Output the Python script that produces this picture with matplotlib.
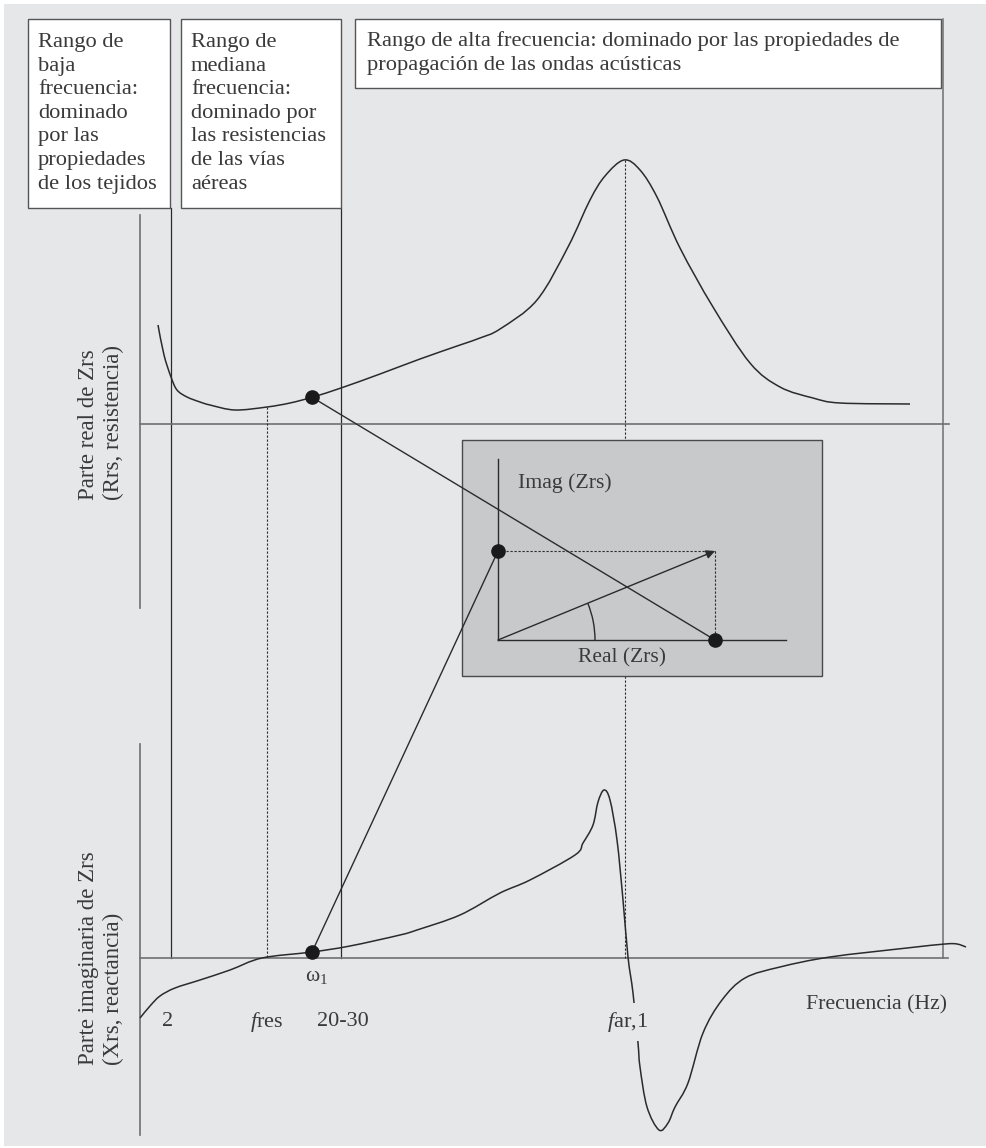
import numpy as np
import matplotlib.pyplot as plt
from matplotlib.patches import Rectangle, Arc, PathPatch
from matplotlib.path import Path

plt.rcParams["font.family"] = ["Liberation Serif", "DejaVu Serif"]
plt.rcParams["mathtext.fontset"] = "custom"
plt.rcParams["mathtext.rm"] = "Liberation Serif"
plt.rcParams["mathtext.it"] = "Liberation Serif:italic"

# page units: x to the right, y downwards
# resistance curve (upper panel)
resist_x = [158, 164, 171, 177, 187, 200, 210, 235, 267, 290, 313, 341, 380, 420, 460, 480,
            500, 537, 568, 590, 605, 624, 640, 657, 680, 713, 750, 780, 813, 840, 910]
resist_y = [325, 355, 377, 390, 397, 402, 405, 410, 407, 403, 397, 388, 374, 359, 345, 338,
            329, 300, 247, 200, 176, 160, 170, 197, 248, 307, 363, 387, 398, 403, 404]

# reactance curve (lower panel)
react_x = [140, 150, 160, 175, 200, 230, 262, 312, 350, 400, 417, 460, 500, 530, 575, 583,
           593, 598, 604, 610, 617, 623, 628, 633, 638, 640, 647, 659, 668, 675, 688, 703,
           722, 745, 780, 830, 907, 945, 957, 966]
react_y = [1018, 1006, 996, 988, 980, 970, 958, 952, 946, 935, 930, 915, 893, 880, 855, 843,
           825, 802, 790, 800, 840, 900, 957, 993, 1043, 1067, 1107, 1130, 1123, 1107, 1083, 1033,
           1000, 978, 967, 957, 948, 944, 944, 947]

# marked frequencies
f_2 = 171
f_res = 267
f_omega1 = 312
f_2030 = 341
f_ar1 = 625
f_max = 943

# phasor in the inset
origin = (498, 640)
real_end = 715
imag_end = 551

axis_r = 424      # zero line, upper panel
axis_x = 958      # zero line, lower panel

ink = "#2b2b2b"
axis_col = "#6e6f71"
txt = "#3a3a3a"


def smooth_path(xs, ys):
    # Catmull-Rom through the points, written as cubic Bezier segments
    p = np.column_stack([xs, ys]).astype(float)
    verts = [p[0]]
    codes = [Path.MOVETO]
    n = len(p)
    for i in range(n - 1):
        p0 = p[i - 1] if i > 0 else p[i]
        p1, p2 = p[i], p[i + 1]
        p3 = p[i + 2] if i + 2 < n else p[i + 1]
        verts += [p1 + (p2 - p0) / 6, p2 - (p3 - p1) / 6, p2]
        codes += [Path.CURVE4] * 3
    return Path(verts, codes)


fig = plt.figure(figsize=(9.87, 11.48), dpi=100, facecolor="white")
ax = fig.add_axes([0, 0, 1, 1])
ax.set_xlim(0, 987)
ax.set_ylim(1148, 0)
ax.axis("off")

ax.add_patch(Rectangle((4, 4), 983, 1142, fc="#e6e7e9", ec="none", zorder=0))

# header boxes
boxes = [
    (28, 19, 142, 189, "Rango de\nbaja\nfrecuencia:\ndominado\npor las\npropiedades\nde los tejidos", 38, 1.33, 14),
    (181, 19, 160, 189, "Rango de\nmediana\nfrecuencia:\ndominado por\nlas resistencias\nde las vías\naéreas", 191, 1.33, 14),
    (355, 19, 586, 69, "Rango de alta frecuencia: dominado por las propiedades de\npropagación de las ondas acústicas", 367, 1.35, 12),
]
for bx, by, bw, bh, label, tx, ls, pad in boxes:
    ax.add_patch(Rectangle((bx, by), bw, bh, fc="white", ec="#555555", lw=1.0, zorder=2))
    ax.text(tx, by + pad, label, ha="left", va="top", fontsize=16.2, color=txt,
            linespacing=ls, zorder=3)

# frequency band borders
ax.plot([f_2, f_2], [208, axis_x], color=ink, lw=0.9, zorder=1)
ax.plot([f_2030, f_2030], [208, axis_x], color=ink, lw=0.9, zorder=1)
ax.plot([f_max, f_max], [19, axis_x], color=axis_col, lw=1.1, zorder=1)

# panel axes
ax.plot([140, 140], [215, 608], color=axis_col, lw=1.2, zorder=1)
ax.plot([140, 949], [axis_r, axis_r], color=axis_col, lw=1.2, zorder=1)
ax.plot([140, 140], [744, 1135], color=axis_col, lw=1.2, zorder=1)
ax.plot([140, 948], [axis_x, axis_x], color=axis_col, lw=1.2, zorder=1)

# dotted markers at fres and far,1
res_top = np.interp(f_res, resist_x, resist_y)
peak_top = min(resist_y)
ax.plot([f_res, f_res], [res_top, axis_x], color=ink, lw=0.8, ls=(0, (2, 1.6)), zorder=1)
ax.plot([f_ar1, f_ar1], [peak_top, axis_x], color=ink, lw=0.8, ls=(0, (2, 1.6)), zorder=1)

# curves
for cx, cy in [(resist_x, resist_y), (react_x, react_y)]:
    ax.add_patch(PathPatch(smooth_path(cx, cy), fill=False, ec=ink, lw=1.1, zorder=3))

# inset with the phasor diagram
ax.add_patch(Rectangle((462, 440), 360, 236, fc="#c8c9cb", ec="#4a4a4a", lw=1.0, zorder=4))
ox, oy = origin
ax.plot([ox, ox], [459, oy], color=ink, lw=1.0, zorder=5)
ax.plot([ox, 786], [oy, oy], color=ink, lw=1.0, zorder=5)
ax.plot([ox, real_end], [imag_end, imag_end], color=ink, lw=0.8, ls=(0, (2, 1.6)), zorder=5)
ax.plot([real_end, real_end], [imag_end, oy], color=ink, lw=0.8, ls=(0, (2, 1.6)), zorder=5)
ax.annotate("", xy=(real_end, imag_end), xytext=(ox, oy),
            arrowprops=dict(arrowstyle="-|>", color=ink, lw=1.0, mutation_scale=13,
                            shrinkA=0, shrinkB=0), zorder=5)
angle = np.degrees(np.arctan2(oy - imag_end, real_end - ox))
ax.add_patch(Arc((ox, oy), 194, 194, theta1=360 - angle, theta2=360, color=ink, lw=1.0, zorder=5))
ax.text(518, 483, "Imag (Zrs)", ha="left", va="center", fontsize=15.7, color=txt, zorder=6)
ax.text(622, 658, "Real (Zrs)", ha="center", va="center", fontsize=15.5, color=txt, zorder=6)

# links from omega1 to the phasor
r_w1 = np.interp(f_omega1, resist_x, resist_y)
x_w1 = np.interp(f_omega1, react_x, react_y)
ax.plot([f_omega1, real_end], [r_w1, oy], color=ink, lw=1.0, zorder=6)
ax.plot([f_omega1, ox], [x_w1, imag_end], color=ink, lw=1.0, zorder=6)
dots_x = [f_omega1, f_omega1, ox, real_end]
dots_y = [r_w1, x_w1, imag_end, oy]
ax.plot(dots_x, dots_y, "o", color="#1a1a1a", ms=9.5, zorder=7)

# axis titles
ax.text(101, 422, "Parte real de Zrs\n(Rrs, resistencia)", rotation=90, ha="center", va="center",
        multialignment="left", fontsize=16.5, color=txt, linespacing=1.2)
ax.text(101, 958, "Parte imaginaria de Zrs\n(Xrs, reactancia)", rotation=90, ha="center", va="center",
        multialignment="left", fontsize=16.5, color=txt, linespacing=1.2)

# frequency labels
ax.text(f_omega1 + 5, 976, r"$\mathrm{\omega}_1$", ha="center", va="center", fontsize=15.5, color=txt)
ax.text(f_2 - 3, 1022, "2", ha="center", va="center", fontsize=16, color=txt)
ax.text(f_res, 1022, r"$\mathit{f}$res", ha="center", va="center", fontsize=16, color=txt)
ax.text(f_2030 + 2, 1022, "20-30", ha="center", va="center", fontsize=16, color=txt)
ax.text(f_ar1 + 3, 1022, r"$\mathit{f}$ar,1", ha="center", va="center", fontsize=16.2, color=txt,
        zorder=4, bbox=dict(fc="#e6e7e9", ec="none", pad=5))
ax.text(947, 1005, "Frecuencia (Hz)", ha="right", va="center", fontsize=15.7, color=txt)

fig.savefig("out.png", dpi=100, facecolor="white")
